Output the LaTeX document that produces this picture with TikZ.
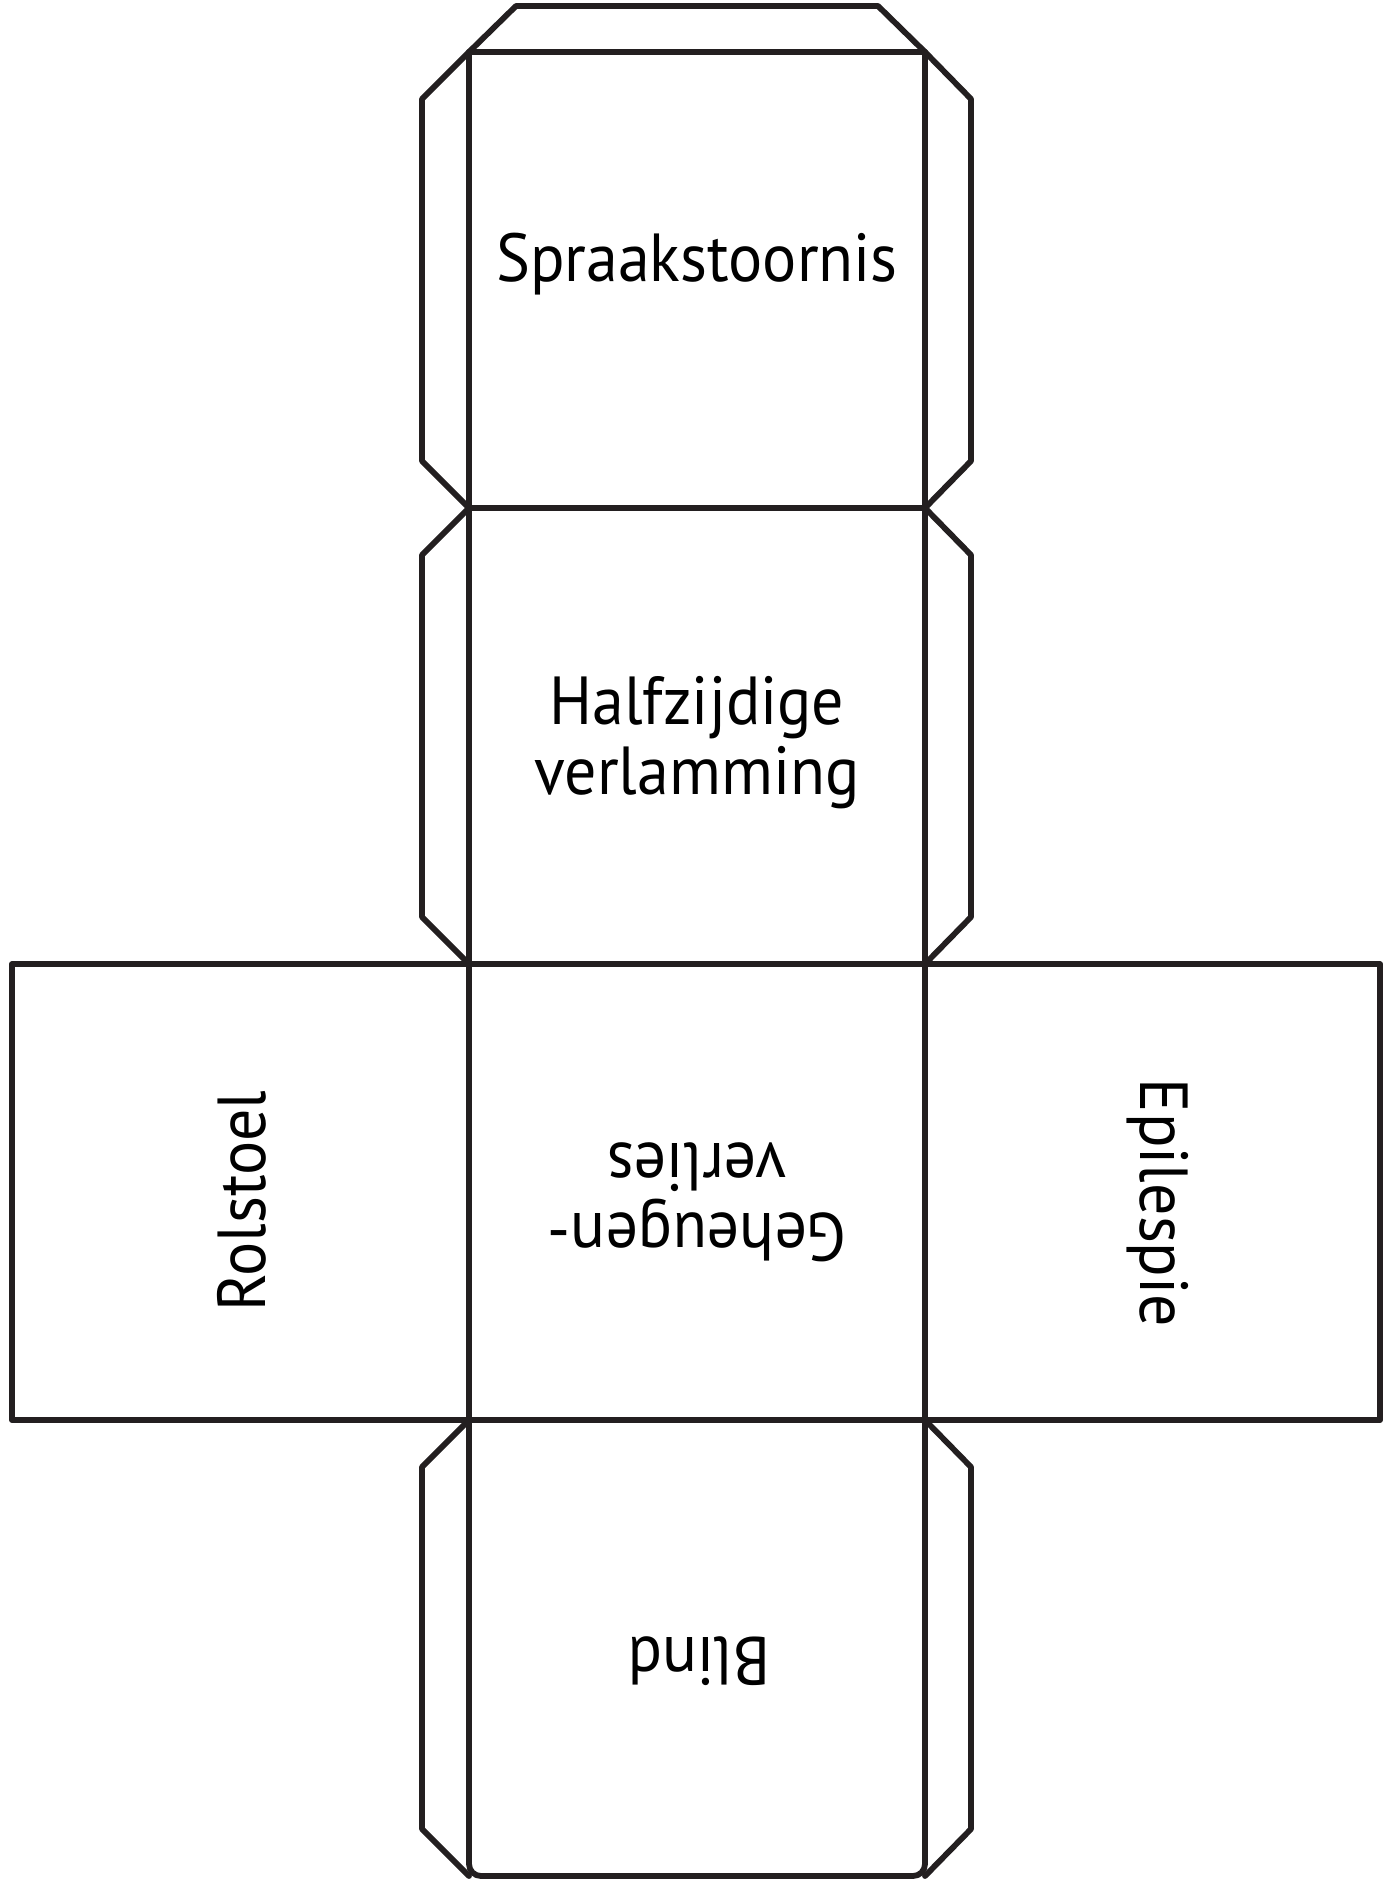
\documentclass[tikz,border=0pt]{standalone}
\usepackage{fontspec}
\setmainfont{PT Sans}
\definecolor{ink}{HTML}{231F20}
\newcommand{\sqz}[1]{\scalebox{0.94}[1]{#1}}
\begin{document}
\begin{tikzpicture}[x=0.5pt,y=-0.5pt,
  edge/.style={draw=ink, line width=2.9pt, line join=round, line cap=round},
  label/.style={font=\fontsize{34}{35}\selectfont, align=center, inner sep=0pt, text=black}]
\useasboundingbox (0,0) rectangle (1383,1888);
\fill[white] (0,0) rectangle (1383,1888);
% faces
\draw[edge] (469,52) rectangle (925,508);
\draw[edge] (469,508) rectangle (925,964);
\draw[edge] (469,964) rectangle (925,1420);
\draw[edge, rounded corners=6pt] (469,1420) -- (469,1876) -- (925,1876) -- (925,1420);
\draw[edge] (469,1420) -- (925,1420);
\draw[edge] (12,964) rectangle (469,1420);
\draw[edge] (925,964) rectangle (1380,1420);
% top flap
\draw[edge] (469,52) -- (516,6) -- (878,6) -- (925,52);
% side flaps
\foreach \y in {52,508,1420}{
  \draw[edge] (469,\y) -- (422,\y+47) -- (422,\y+409) -- (469,\y+456);
  \draw[edge] (925,\y) -- (971,\y+47) -- (971,\y+409) -- (925,\y+456);
}
% labels
\node[label, anchor=base] (t1) at (697,282) {\sqz{Spraakstoornis}};
\node[label] (t2) at (697,743) {\sqz{Halfzijdige}\\\sqz{verlamming}};
\node[label, rotate=180] (t3) at (697,1202) {\sqz{Geheugen-}\\\sqz{verlies}};
\node[label, rotate=90, anchor=base] (t4) at (265,1201) {\sqz{Rolstoel}};
\node[label, rotate=-90, anchor=base] (t5) at (1140,1203) {\sqz{Epilespie}};
\node[label, rotate=180, anchor=base] (t6) at (699,1637) {\sqz{Blind}};
\end{tikzpicture}
\end{document}
